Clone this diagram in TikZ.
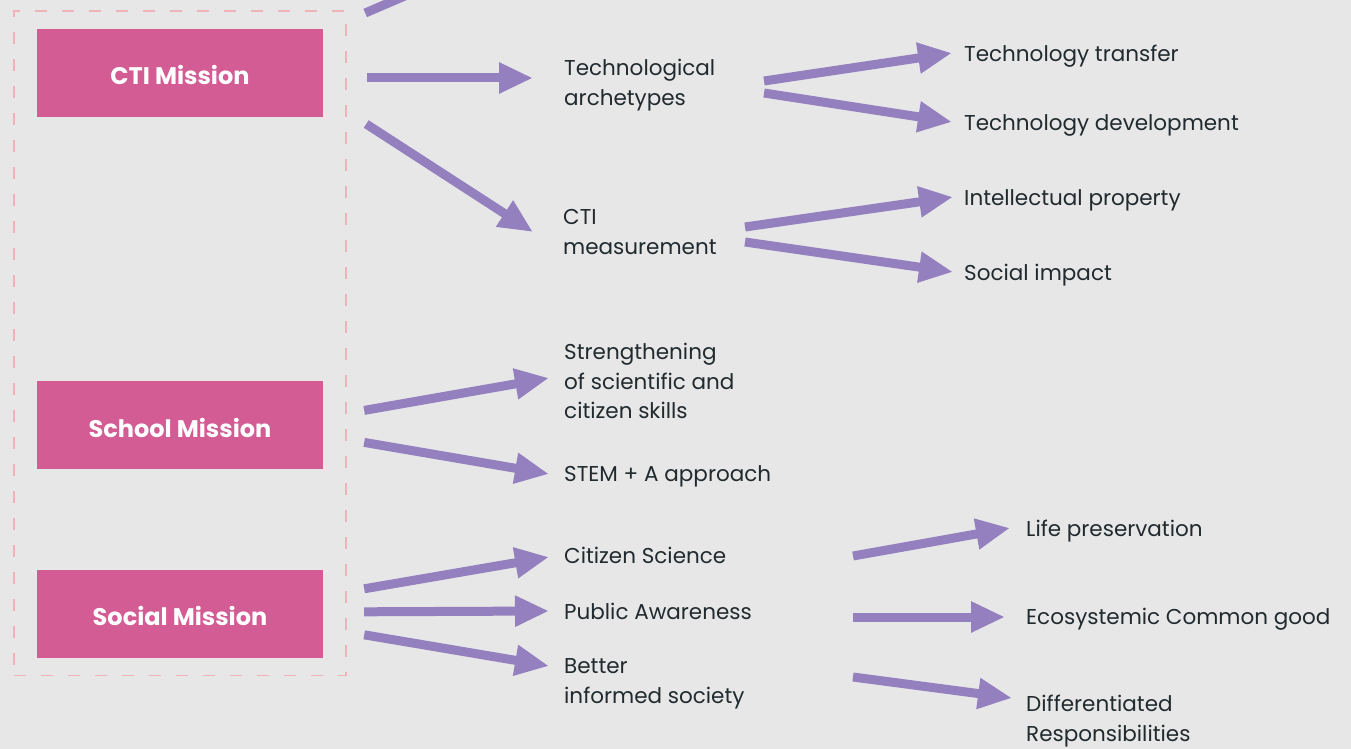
\documentclass[tikz,border=0pt]{standalone}
\usepackage{fontspec}
\setmainfont{Poppins}
\usetikzlibrary{arrows.meta,positioning,fit,calc}
\definecolor{PageGrey}{RGB}{231,231,231}
\definecolor{MissionPink}{RGB}{212,92,148}
\definecolor{FramePink}{RGB}{240,178,186}
\definecolor{ArrowPurple}{RGB}{148,128,190}
\definecolor{InkGrey}{RGB}{33,42,46}
% struts that fix where the text sits inside its node
\newcommand{\topicstrut}{\rule[-5.85pt]{0pt}{29.5pt}}
\newcommand{\missionstrut}{\rule{0pt}{24pt}}
\tikzset{
  mission/.style={fill=MissionPink, minimum width=286pt, minimum height=88pt,
    inner sep=0pt, text=white, font=\fontsize{24}{28}\selectfont\bfseries,
    execute at begin node=\missionstrut},
  missionframe/.style={draw=FramePink, line width=1.6pt,
    dash pattern=on 12pt off 15pt},
  topic/.style={anchor=west, inner sep=0pt, align=left, text=InkGrey,
    font=\fontsize{21.5}{29.5}\selectfont,
    execute at begin node=\topicstrut, execute at end node=\topicstrut},
  arrow/.style={-{Triangle[length=34pt,width=29pt]}, line width=9pt,
    ArrowPurple}
}

\begin{document}
\begin{tikzpicture}[x=1pt,y=-1pt]
  \useasboundingbox (0,0) rectangle (1351,749);
  \fill[PageGrey] (0,0) rectangle (1351,749);
  \clip (0,0) rectangle (1351,749);

  % the three missions, framed together
  \node[mission] (cti) at (180,73) {CTI Mission};
  \node[mission, below=264pt of cti] (school) {School Mission};
  \node[mission, below=100pt of school] (social) {Social Mission};
  \node[missionframe, fit=(cti)(school)(social), inner xsep=23pt,
    inner ysep=17.5pt] (missions) {};

  % what each mission leads to
  \node[topic] (arch) at (564,85) {Technological\\archetypes};
  \node[topic] (measure) at (563,235) {CTI\\measurement};
  \node[topic] (transfer) at (964,53) {Technology transfer};
  \node[topic] (develop) at (964,122) {Technology development};
  \node[topic] (ip) at (964,197) {Intellectual property};
  \node[topic] (impact) at (964,272) {Social impact};
  \node[topic] (skills) at (564,384) {Strengthening\\of scientific and\\citizen skills};
  \node[topic] (stem) at (564,473) {STEM + A approach};
  \node[topic] (citsci) at (564,555) {Citizen Science};
  \node[topic] (aware) at (564,611) {Public Awareness};
  \node[topic] (better) at (564,684) {Better\\informed society};
  \node[topic] (life) at (1026,528) {Life preservation};
  \node[topic] (commons) at (1026,616) {Ecosystemic Common good};
  \node[topic] (duties) at (1026,721) {Differentiated\\Responsibilities};

  % CTI branch
  \coordinate (offtop) at ($(cti.east)+(142,-103)$);
  \draw[arrow] ($(cti.east)+(42,-60)$) -- (offtop);
  \draw[arrow] ($(cti.east)+(44,5)$) -- ($(arch.west)+(-31,-7)$);
  \draw[arrow] ($(cti.east)+(43,51)$) -- ($(measure.west)+(-30,-3)$);
  \draw[arrow] ($(arch.west)+(200,-4)$) -- ($(transfer.west)+(-12,0)$);
  \draw[arrow] ($(arch.west)+(200,8)$) -- ($(develop.west)+(-12,0)$);
  \draw[arrow] ($(measure.west)+(182,-8)$) -- ($(ip.west)+(-11,0)$);
  \draw[arrow] ($(measure.west)+(182,7)$) -- ($(impact.west)+(-11,0)$);

  % School branch
  \draw[arrow] ($(school.east)+(41,-15)$) -- ($(skills.west)+(-15,-6)$);
  \draw[arrow] ($(school.east)+(41,17)$) -- ($(stem.west)+(-15,1)$);

  % Social branch
  \draw[arrow] ($(social.east)+(41,-25)$) -- ($(citsci.west)+(-15,2)$);
  \draw[arrow] ($(social.east)+(41,-2)$) -- ($(aware.west)+(-15,0)$);
  \draw[arrow] ($(social.east)+(41,21)$) -- ($(better.west)+(-15,-18)$);
  \draw[arrow] ($(citsci.west)+(289,1)$) -- ($(life.west)+(-16,0)$);
  \draw[arrow] ($(aware.west)+(289,6)$) -- ($(commons.west)+(-21,1)$);
  \draw[arrow] ($(better.west)+(289,-7)$) -- ($(duties.west)+(-14,-23)$);
\end{tikzpicture}
\end{document}
